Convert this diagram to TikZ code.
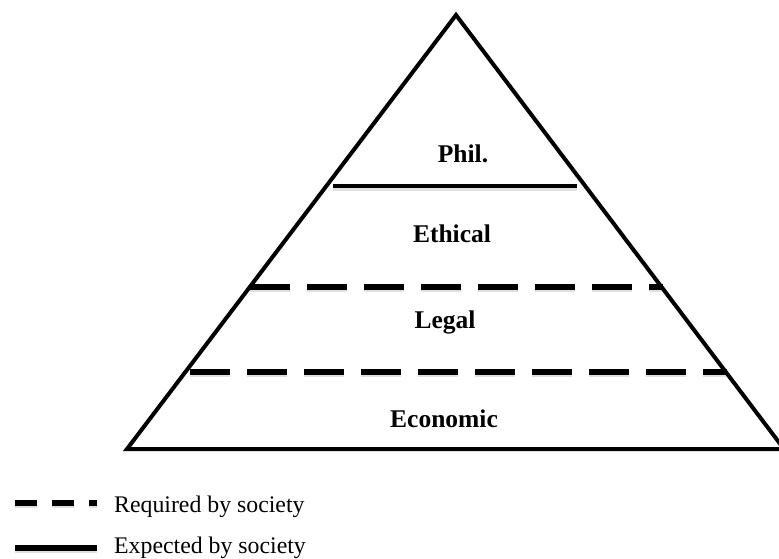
\documentclass[tikz,border=0pt]{standalone}
\usepackage{fontspec}
\setmainfont{Liberation Serif}
\begin{document}
\begin{tikzpicture}[x=1pt,y=-1pt,
  edge/.style={line width=4pt, line join=miter},
  solidline/.style={line width=4.5pt},
  dashline/.style={line width=5.5pt, dash pattern=on 40pt off 17pt},
  shadow/.style={line width=4pt, black!12},
  lbl/.style={inner sep=0pt, font=\fontsize{25.5}{30}\selectfont\bfseries, anchor=base},
  legtxt/.style={inner sep=0pt, font=\fontsize{23.8}{28}\selectfont, anchor=base west},
  legline/.style={line width=5.5pt}]
\useasboundingbox (0,0) rectangle (779,559);
\coordinate (apex) at (456,15);
\coordinate (bl) at (127,449);
\coordinate (br) at (784,449);
% layer lines (with faint shadows)
\coordinate (s1) at (333,186); \coordinate (e1) at (577,186);
\coordinate (s2) at (250,287); \coordinate (e2) at (663,287);
\coordinate (s3) at (190,372); \coordinate (e3) at (727,372);
\draw[shadow] ([yshift=-3pt]s1) -- ([yshift=-3pt]e1);
\draw[shadow, dash pattern=on 40pt off 17pt] ([yshift=-3pt]s2) -- ([yshift=-3pt]e2);
\draw[shadow, dash pattern=on 40pt off 17pt] ([yshift=-3pt]s3) -- ([yshift=-3pt]e3);
\draw[solidline] (s1) -- (e1);
\draw[dashline] (s2) -- (e2);
\draw[dashline] (s3) -- (e3);
\draw[edge] (apex) -- (br) -- (bl) -- cycle;
% labels
\node[lbl] (phil) at (463,162) {Phil.};
\node[lbl] (eth) at (452,242) {Ethical};
\node[lbl] (leg) at (445,328) {Legal};
\node[lbl] (eco) at (444,427) {Economic};
% legend
\coordinate (l1a) at (15,503); \coordinate (l1b) at (97,503);
\coordinate (l2a) at (15,548); \coordinate (l2b) at (97,548);
\draw[shadow, dash pattern=on 22pt off 15pt] ([yshift=-3pt]l1a) -- ([yshift=-3pt]l1b);
\draw[shadow] ([yshift=-3pt]l2a) -- ([yshift=-3pt]l2b);
\draw[legline, dash pattern=on 22pt off 15pt] (l1a) -- (l1b);
\draw[legline] (l2a) -- (l2b);
\node[legtxt] (req) at (114,512) {Required by society};
\node[legtxt] (exp) at (114,553) {Expected by society};
\end{tikzpicture}
\end{document}
